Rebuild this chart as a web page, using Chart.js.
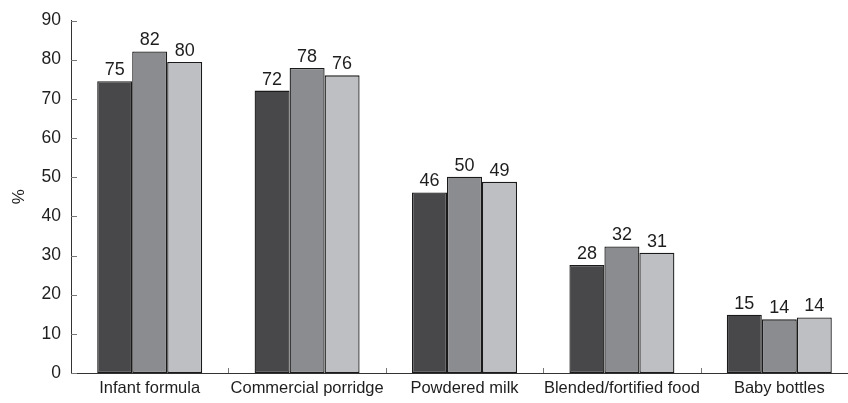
<!DOCTYPE html>
<html>
<head>
<meta charset="utf-8">
<script src="https://cdn.jsdelivr.net/npm/chart.js@4.4.1/dist/chart.umd.min.js"></script>
<style>
  html, body { margin: 0; padding: 0; background: #fff; overflow: hidden; }
  #wrap { position: relative; width: 858px; height: 403px; }
</style>
</head>
<body>
<div id="wrap"><canvas id="foodChart"></canvas></div>
<script>
const categories = ['Infant formula', 'Commercial porridge', 'Powdered milk', 'Blended/fortified food', 'Baby bottles'];

const series1 = [74.5, 72.1, 46.1, 27.6, 14.9];
const series2 = [82.1, 77.9, 50.1, 32.3, 13.7];
const series3 = [79.4, 76.0, 48.8, 30.7, 14.2];
const labels1 = ['75', '72', '46', '28', '15'];
const labels2 = ['82', '78', '50', '32', '14'];
const labels3 = ['80', '76', '49', '31', '14'];

const yTicks = [0, 10, 20, 30, 40, 50, 60, 70, 80, 90];

const FONT = '"Liberation Sans", Arial, Helvetica, sans-serif';
const TEXT = '#1e1e1e';

// value labels above bars + inward tick marks on both axes
const marksPlugin = {
    id: 'marksPlugin',
    afterDatasetsDraw(chart) {
        const ctx = chart.ctx;
        const x = chart.scales.x;
        const y = chart.scales.y;
        ctx.save();

        ctx.font = '18px ' + FONT;
        ctx.fillStyle = TEXT;
        ctx.textAlign = 'center';
        ctx.textBaseline = 'alphabetic';
        chart.data.datasets.forEach((ds, i) => {
            chart.getDatasetMeta(i).data.forEach((bar, j) => {
                ctx.fillText(ds.valueLabels[j], bar.x, bar.y - 6);
            });
        });

        ctx.strokeStyle = '#777';
        ctx.lineWidth = 1;
        ctx.beginPath();
        y.ticks.forEach(t => {
            const py = Math.round(y.getPixelForValue(t.value)) + 0.5;
            ctx.moveTo(x.left, py);
            ctx.lineTo(x.left + 6, py);
        });
        const half = (x.getPixelForValue(1) - x.getPixelForValue(0)) / 2;
        for (let i = 0; i < categories.length; i++) {
            const px = Math.round(x.getPixelForValue(i) + half) + 0.5;
            ctx.moveTo(px, y.bottom);
            ctx.lineTo(px, y.bottom - 5);
        }
        ctx.stroke();
        ctx.restore();
    }
};

const ctx = document.getElementById('foodChart').getContext('2d');
const foodChart = new Chart(ctx, {
    type: 'bar',
    data: {
        labels: categories,
        datasets: [
            { data: series1, valueLabels: labels1, backgroundColor: '#48484b' },
            { data: series2, valueLabels: labels2, backgroundColor: '#8b8c8f' },
            { data: series3, valueLabels: labels3, backgroundColor: '#bebfc3' }
        ].map(d => Object.assign(d, {
            borderColor: '#1a1a1a',
            borderWidth: 1.3,
            borderSkipped: false,
            categoryPercentage: 0.667,
            barPercentage: 1.0
        }))
    },
    options: {
        responsive: true,
        maintainAspectRatio: false,
        animation: false,
        devicePixelRatio: 1,
        layout: { padding: { left: 0, right: 0, top: 14, bottom: 0 } },
        plugins: {
            legend: { display: false },
            tooltip: { enabled: false }
        },
        scales: {
            x: {
                grid: { display: false, drawTicks: false },
                border: { display: true, color: '#333', width: 1 },
                ticks: {
                    color: TEXT,
                    font: { family: FONT, size: 16.5 },
                    padding: 6,
                    maxRotation: 0,
                    autoSkip: false
                },
                afterFit: s => { s.height = 30; }
            },
            y: {
                min: 0,
                max: 90,
                afterBuildTicks: s => { s.ticks = yTicks.map(v => ({ value: v })); },
                grid: { display: false, drawTicks: false },
                border: { display: true, color: '#333', width: 1 },
                ticks: {
                    color: TEXT,
                    font: { family: FONT, size: 17.5 },
                    padding: 10
                },
                title: {
                    display: true,
                    text: '%',
                    color: TEXT,
                    font: { family: FONT, size: 17 },
                    padding: { top: 9, bottom: 0 }
                },
                afterFit: s => { s.width = 71; }
            }
        }
    },
    plugins: [marksPlugin]
});
</script>
</body>
</html>
